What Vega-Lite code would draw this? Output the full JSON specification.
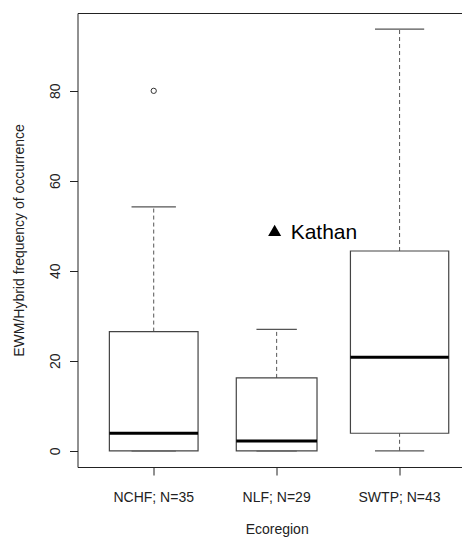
{
  "$schema": "https://vega.github.io/schema/vega-lite/v6.json",
  "autosize": "none",
  "width": 384.5,
  "height": 454,
  "padding": {"left": 77.5, "top": 13, "right": 0, "bottom": 70},
  "background": "white",
  "config": {
    "view": {"stroke": null},
    "font": "Liberation Sans",
    "axis": {
      "grid": false,
      "labelFont": "Liberation Sans",
      "titleFont": "Liberation Sans",
      "labelFontSize": 14,
      "titleFontSize": 14,
      "titleFontWeight": "normal",
      "labelColor": "#222",
      "titleColor": "#222",
      "domainColor": "#222",
      "tickColor": "#222",
      "tickSize": 8
    }
  },
  "datasets": {
    "boxes": [
      {"region": "NCHF; N=35", "n": 35, "lo": 0, "q1": 0, "med": 3.9, "q3": 26.5, "hi": 54.2},
      {"region": "NLF; N=29", "n": 29, "lo": 0, "q1": 0, "med": 2.2, "q3": 16.2, "hi": 27.0},
      {"region": "SWTP; N=43", "n": 43, "lo": 0, "q1": 3.9, "med": 20.8, "q3": 44.4, "hi": 93.7}
    ],
    "outliers": [
      {"region": "NCHF; N=35", "value": 80.0}
    ],
    "site": [
      {"region": "NLF; N=29", "value": 49.0, "name": "Kathan"}
    ]
  },
  "resolve": {"axis": {"x": "independent"}, "scale": {"size": "independent"}},
  "layer": [
    {
      "data": {"name": "boxes"},
      "mark": {"type": "rule", "stroke": "#555", "strokeWidth": 1, "strokeDash": [4, 3]},
      "encoding": {
        "x": {
          "field": "region", "type": "nominal", "sort": null,
          "scale": {"type": "band", "range": [0, 398.3], "paddingInner": 0, "paddingOuter": 0.12},
          "axis": {"orient": "top", "labels": false, "ticks": false, "domain": true, "title": null}
        },
        "y": {
          "field": "q3", "type": "quantitative",
          "scale": {"domain": [-3.6, 97.3], "nice": false, "zero": false},
          "axis": {
            "values": [0, 20, 40, 60, 80],
            "labelAngle": -90,
            "labelPadding": 7,
            "titlePadding": 22,
            "title": "EWM/Hybrid frequency of occurrence"
          }
        },
        "y2": {"field": "hi"}
      }
    },
    {
      "data": {"name": "boxes"},
      "mark": {"type": "rule", "stroke": "#555", "strokeWidth": 1, "strokeDash": [4, 3]},
      "encoding": {
        "x": {"field": "region", "type": "nominal", "sort": null, "axis": null},
        "y": {"field": "lo", "type": "quantitative"},
        "y2": {"field": "q1"}
      }
    },
    {
      "data": {"name": "boxes"},
      "transform": [{"fold": ["lo", "hi"], "as": ["end", "value"]}],
      "mark": {"type": "tick", "color": "#555", "thickness": 1.2, "opacity": 1},
      "encoding": {
        "x": {"field": "region", "type": "nominal", "sort": null, "axis": null},
        "y": {"field": "value", "type": "quantitative"},
        "size": {"field": "n", "type": "quantitative", "scale": {"type": "sqrt", "domain": [0, 43], "range": [0, 49.2]}, "legend": null}
      }
    },
    {
      "data": {"name": "boxes"},
      "mark": {"type": "bar", "fill": "white", "stroke": "#444", "strokeWidth": 1.2},
      "encoding": {
        "x": {
          "field": "region", "type": "nominal", "sort": null,
          "axis": {"orient": "bottom", "labelAngle": 0, "labelPadding": 15, "titlePadding": 18, "title": "Ecoregion", "domain": true, "ticks": true}
        },
        "y": {"field": "q1", "type": "quantitative"},
        "y2": {"field": "q3"},
        "size": {"field": "n", "type": "quantitative", "scale": {"type": "sqrt", "domain": [0, 43], "range": [0, 98.3]}, "legend": null}
      }
    },
    {
      "data": {"name": "boxes"},
      "mark": {"type": "tick", "color": "black", "thickness": 3, "opacity": 1},
      "encoding": {
        "x": {"field": "region", "type": "nominal", "sort": null, "axis": null},
        "y": {"field": "med", "type": "quantitative"},
        "size": {"field": "n", "type": "quantitative", "scale": {"type": "sqrt", "domain": [0, 43], "range": [0, 98.3]}, "legend": null}
      }
    },
    {
      "data": {"name": "outliers"},
      "mark": {"type": "point", "shape": "circle", "filled": false, "stroke": "#333", "strokeWidth": 1, "size": 28, "opacity": 1},
      "encoding": {
        "x": {"field": "region", "type": "nominal", "sort": null, "axis": null},
        "y": {"field": "value", "type": "quantitative"}
      }
    },
    {
      "data": {"name": "site"},
      "mark": {"type": "point", "shape": "triangle-up", "filled": true, "fill": "black", "size": 170, "opacity": 1, "xOffset": -2},
      "encoding": {
        "x": {"field": "region", "type": "nominal", "sort": null, "axis": null},
        "y": {"field": "value", "type": "quantitative"}
      }
    },
    {
      "data": {"name": "site"},
      "mark": {"type": "text", "align": "left", "baseline": "middle", "dx": 14, "dy": 3, "fontSize": 21, "font": "Liberation Sans", "color": "black"},
      "encoding": {
        "x": {"field": "region", "type": "nominal", "sort": null, "axis": null},
        "y": {"field": "value", "type": "quantitative"},
        "text": {"field": "name"}
      }
    }
  ]
}
